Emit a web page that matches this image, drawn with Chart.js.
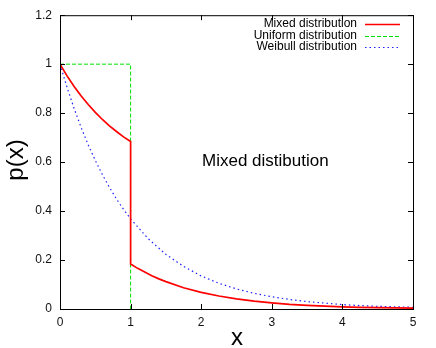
<!DOCTYPE html>
<html>
<head>
<meta charset="utf-8">
<script src="https://cdn.jsdelivr.net/npm/chart.js@4.4.0/dist/chart.umd.min.js"></script>
<style>
  html, body { margin: 0; padding: 0; background: #fff; }
  #wrap { width: 436px; height: 348px; }
</style>
</head>
<body>
<div id="wrap"><canvas id="chart"></canvas></div>
<script>
// Values
const mixedX = [0, 0.1, 0.2, 0.3, 0.4, 0.5, 0.6, 0.7, 0.8, 0.9, 1, 1, 1.1, 1.2, 1.3, 1.4, 1.5, 1.75, 2, 2.25, 2.5, 2.75, 3, 3.25, 3.5, 3.75, 4, 4.25, 4.5, 4.75, 5];
const mixedY = [1, 0.952, 0.909, 0.870, 0.835, 0.803, 0.774, 0.748, 0.725, 0.703, 0.684, 0.184, 0.166, 0.151, 0.136, 0.123, 0.112, 0.087, 0.068, 0.053, 0.041, 0.032, 0.025, 0.019, 0.015, 0.012, 0.009, 0.007, 0.0055, 0.0043, 0.0034];

const uniformX = [0, 1, 1];
const uniformY = [1, 1, 0];

const weibullX = [0, 0.1, 0.2, 0.3, 0.4, 0.5, 0.6, 0.7, 0.8, 0.9, 1, 1.25, 1.5, 1.75, 2, 2.25, 2.5, 2.75, 3, 3.25, 3.5, 3.75, 4, 4.25, 4.5, 4.75, 5];
const weibullY = [1, 0.905, 0.819, 0.741, 0.670, 0.607, 0.549, 0.497, 0.449, 0.407, 0.368, 0.287, 0.223, 0.174, 0.135, 0.105, 0.082, 0.064, 0.050, 0.039, 0.030, 0.024, 0.018, 0.014, 0.011, 0.009, 0.007];

const seriesNames = ['Mixed distribution', 'Uniform distribution', 'Weibull distribution'];
const xTicks = [0, 1, 2, 3, 4, 5];
const yTicks = [0, 0.2, 0.4, 0.6, 0.8, 1, 1.2];
const yTickLabels = ['0', '0.2', '0.4', '0.6', '0.8', '1', '1.2'];

const toPoints = (xs, ys) => xs.map((x, i) => ({ x: x, y: ys[i] }));

const FONT = "'Liberation Sans', Arial, Helvetica, sans-serif";

// Gnuplot-like frame, inward ticks, legend and labels
const framePlugin = {
  id: 'frame',
  afterDraw(chart) {
    const { ctx, chartArea: a, scales } = chart;
    ctx.save();
    ctx.strokeStyle = '#000';
    ctx.lineWidth = 1;
    ctx.strokeRect(a.left + 0.5, a.top + 0.5, a.right - a.left, a.bottom - a.top);

    ctx.beginPath();
    xTicks.forEach(v => {
      const px = Math.round(scales.x.getPixelForValue(v)) + 0.5;
      ctx.moveTo(px, a.bottom); ctx.lineTo(px, a.bottom - 5);
      ctx.moveTo(px, a.top); ctx.lineTo(px, a.top + 5);
    });
    yTicks.forEach(v => {
      const py = Math.round(scales.y.getPixelForValue(v)) + 0.5;
      ctx.moveTo(a.left, py); ctx.lineTo(a.left + 5, py);
      ctx.moveTo(a.right, py); ctx.lineTo(a.right - 5, py);
    });
    ctx.stroke();

    // legend
    ctx.font = '12px ' + FONT;
    ctx.textAlign = 'right';
    ctx.textBaseline = 'middle';
    chart.data.datasets.forEach((ds, i) => {
      const y = 24 + i * 11.5;
      ctx.fillStyle = '#000';
      ctx.fillText(seriesNames[i], 357, y);
      ctx.beginPath();
      ctx.strokeStyle = ds.borderColor;
      ctx.lineWidth = ds.borderWidth;
      ctx.setLineDash(ds.borderDash || []);
      ctx.moveTo(365, Math.round(y) + 0.5);
      ctx.lineTo(400, Math.round(y) + 0.5);
      ctx.stroke();
    });
    ctx.setLineDash([]);

    // annotation
    ctx.fillStyle = '#000';
    ctx.textAlign = 'left';
    ctx.font = '17px ' + FONT;
    ctx.fillText('Mixed distibution', 202, 161);

    // axis titles
    ctx.font = '24px ' + FONT;
    ctx.textAlign = 'center';
    ctx.fillText('x', 237, 338);
    ctx.translate(16, 160);
    ctx.rotate(-Math.PI / 2);
    ctx.fillText('p(x)', 0, 0);
    ctx.restore();
  }
};

new Chart(document.getElementById('chart'), {
  type: 'line',
  data: {
    datasets: [
      {
        label: seriesNames[0],
        data: toPoints(mixedX, mixedY),
        borderColor: '#ff0000',
        borderWidth: 1.7,
        tension: 0,
        pointRadius: 0
      },
      {
        label: seriesNames[1],
        data: toPoints(uniformX, uniformY),
        borderColor: '#00e000',
        borderWidth: 1,
        borderDash: [4, 2],
        pointRadius: 0
      },
      {
        label: seriesNames[2],
        data: toPoints(weibullX, weibullY),
        borderColor: '#2020ff',
        borderWidth: 1.2,
        borderDash: [1.5, 3],
        tension: 0,
        pointRadius: 0
      }
    ]
  },
  options: {
    responsive: true,
    maintainAspectRatio: false,
    animation: false,
    layout: { padding: { top: 13, right: 23, left: 0, bottom: 0 } },
    plugins: {
      legend: { display: false },
      tooltip: { enabled: false }
    },
    scales: {
      x: {
        type: 'linear',
        min: 0,
        max: 5,
        afterBuildTicks: (scale) => { scale.ticks = xTicks.map(v => ({ value: v })); },
        afterFit: (scale) => { scale.height = 39; },
        grid: { display: false, drawTicks: false },
        border: { display: false },
        ticks: { color: '#111', font: { size: 12, family: FONT }, padding: 6, maxRotation: 0 }
      },
      y: {
        min: 0,
        max: 1.2,
        afterBuildTicks: (scale) => { scale.ticks = yTicks.map(v => ({ value: v })); },
        afterFit: (scale) => { scale.width = 60; },
        grid: { display: false, drawTicks: false },
        border: { display: false },
        ticks: {
          color: '#111',
          font: { size: 12, family: FONT },
          padding: 8,
          callback: (value, index) => yTickLabels[index]
        }
      }
    }
  },
  plugins: [framePlugin]
});
</script>
</body>
</html>
